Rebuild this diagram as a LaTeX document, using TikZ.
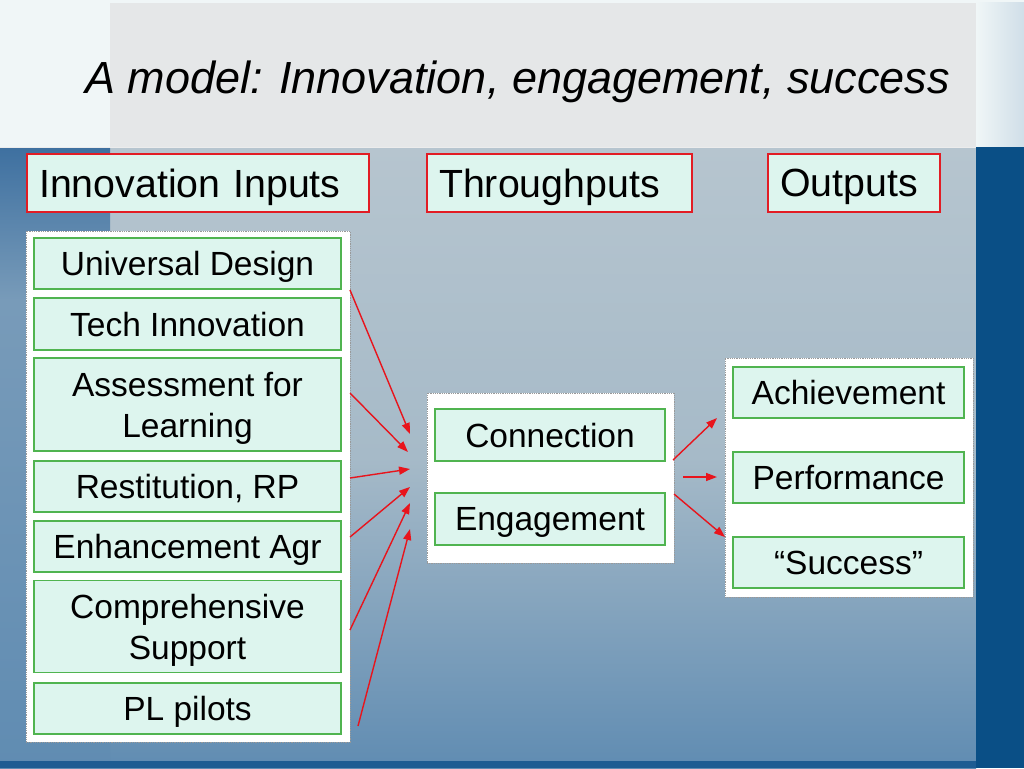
\documentclass[tikz,border=0pt]{standalone}
\usepackage{fontspec}
\setmainfont{Liberation Sans}
\usetikzlibrary{arrows.meta}
\definecolor{hdrred}{RGB}{226,28,36}
\definecolor{mint}{RGB}{221,245,238}
\definecolor{itemgreen}{RGB}{80,180,80}
\definecolor{arrred}{RGB}{232,20,28}
\definecolor{topwhite}{RGB}{240,246,247}
\definecolor{topgrey}{RGB}{229,231,232}
\definecolor{midtop}{RGB}{182,197,207}
\definecolor{midmid}{RGB}{166,186,200}
\definecolor{midbot}{RGB}{96,140,178}
\definecolor{darkblue}{RGB}{10,79,134}
\definecolor{leftblue}{RGB}{62,112,160}
\definecolor{leftlight}{RGB}{120,155,185}
\definecolor{botband}{RGB}{30,92,146}
\tikzset{
  hdr/.style={draw=hdrred, line width=2.2pt, fill=mint, minimum height=58pt,
    inner xsep=12pt, inner ysep=0pt, text depth=0pt,
    font=\fontsize{39.3}{47}\selectfont, align=left, anchor=west},
  item/.style={draw=itemgreen, line width=1.3pt, fill=mint, inner sep=0pt,
    text depth=0pt, font=\fontsize{33.5}{41}\selectfont, align=center},
  panel/.style={draw=gray!80, densely dotted, line width=0.8pt, fill=white, inner sep=0pt},
  link/.style={draw=arrred, line width=1.4pt, -{Triangle[length=11pt,width=8pt]}},
}
\begin{document}
\begin{tikzpicture}[x=1pt,y=-1pt]
\useasboundingbox (0,0) rectangle (1024,768);
% background
\fill[topwhite] (0,0) rectangle (1024,147);
\fill[topgrey] (110,3) rectangle (976,147);
\shade[left color=topwhite, right color={rgb,255:red,208;green,222;blue,232}] (976,3) rectangle (1024,147);
\shade[top color=midtop, bottom color=midbot, middle color=midmid] (0,147) rectangle (976,768);
\shade[top color=leftblue, bottom color=leftlight] (0,147) rectangle (110,300);
\shade[top color=leftlight, bottom color=midbot] (0,300) rectangle (110,768);
\fill[darkblue] (976,147) rectangle (1024,768);
\fill[botband] (0,761) rectangle (976,768);
\draw[white!85!gray, line width=1pt] (0,147) -- (976,147);
% title
\node[font=\fontsize{45}{54}\selectfont\itshape, anchor=base] (title) at (517.5,93) {A model: Innovation, engagement, success};
% headers
\node[hdr, text width=318pt] (hin) at (26,183) {Innovation Inputs};
\node[hdr, text width=241pt] (hthr) at (426,183) {Throughputs};
\node[hdr, text width=148pt] (hout) at (767,183) {Outputs};
% panels
\node[panel, minimum width=324pt, minimum height=511pt] (pin) at (188,486.5) {};
\node[panel, minimum width=247pt, minimum height=170pt] (pthr) at (550.5,478) {};
\node[panel, minimum width=248pt, minimum height=239pt] (pout) at (849,477.5) {};
% inputs
\node[item, minimum width=307pt, minimum height=51pt] (ud) at (187.5,263.5) {Universal Design};
\node[item, minimum width=307pt, minimum height=52pt] (ti) at (187.5,324) {Tech Innovation};
\node[item, minimum width=307pt, minimum height=93pt] (afl) at (187.5,404.5) {Assessment for\\Learning};
\node[item, minimum width=307pt, minimum height=51pt] (rrp) at (187.5,486.5) {Restitution, RP};
\node[item, minimum width=307pt, minimum height=51pt] (ea) at (187.5,546.5) {Enhancement Agr};
\node[item, minimum width=307pt, minimum height=92pt] (cs) at (187.5,626.5) {Comprehensive\\Support};
\node[item, minimum width=307pt, minimum height=51pt] (pl) at (187.5,708.5) {PL pilots};
% throughputs
\node[item, minimum width=230pt, minimum height=52pt] (conn) at (550,435) {Connection};
\node[item, minimum width=230pt, minimum height=52pt] (eng) at (550,519) {Engagement};
% outputs
\node[item, minimum width=231pt, minimum height=51pt] (ach) at (848.5,392.5) {Achievement};
\node[item, minimum width=231pt, minimum height=51pt] (perf) at (848.5,477.5) {Performance};
\node[item, minimum width=231pt, minimum height=51pt] (succ) at (848.5,562.5) {“Success”};
% arrow end points
\coordinate (s1) at (350,290); \coordinate (e1) at (410,434);
\coordinate (s2) at (350,393); \coordinate (e2) at (408,452);
\coordinate (s3) at (350,478); \coordinate (e3) at (410,469);
\coordinate (s4) at (350,537); \coordinate (e4) at (410,487);
\coordinate (s5) at (350,630); \coordinate (e5) at (410,503);
\coordinate (s6) at (358,726); \coordinate (e6) at (410,529);
\coordinate (o1) at (673,460); \coordinate (f1) at (717,418);
\coordinate (o2) at (683,477); \coordinate (f2) at (717,477);
\coordinate (o3) at (674,494); \coordinate (f3) at (725,537);
\draw[link] (s1) -- (e1);
\draw[link] (s2) -- (e2);
\draw[link] (s3) -- (e3);
\draw[link] (s4) -- (e4);
\draw[link] (s5) -- (e5);
\draw[link] (s6) -- (e6);
\draw[link] (o1) -- (f1);
\draw[link] (o2) -- (f2);
\draw[link] (o3) -- (f3);
\end{tikzpicture}
\end{document}
